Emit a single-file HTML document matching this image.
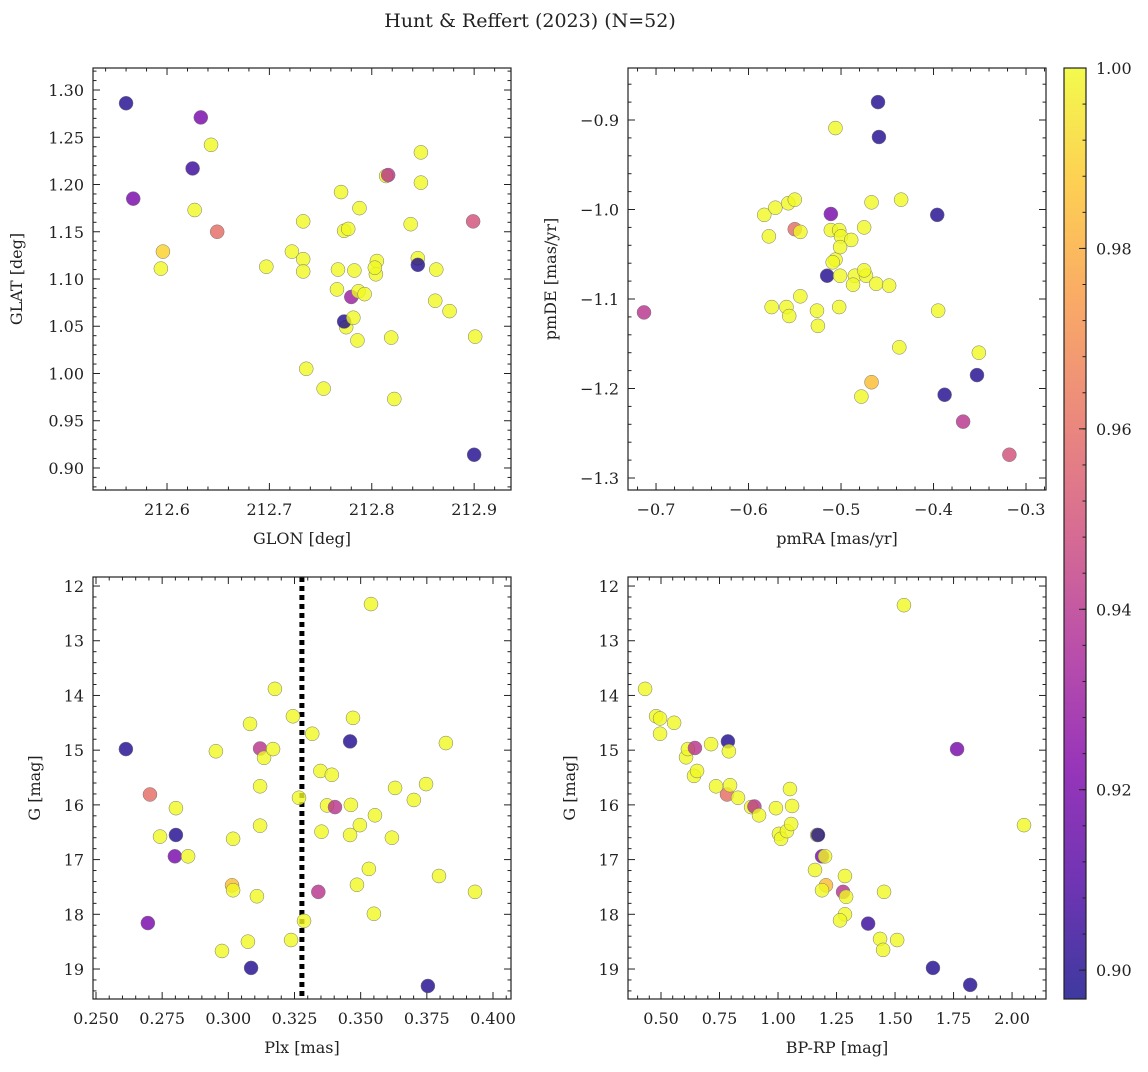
<!DOCTYPE html>
<html><head><meta charset="utf-8"><style>
body{margin:0;background:#fff}
svg text{font-family:"DejaVu Serif","Liberation Serif",serif;fill:#222}
</style></head><body>
<svg id="fig" width="1148" height="1067" viewBox="0 0 1148 1067" xmlns="http://www.w3.org/2000/svg">
<defs>
<linearGradient id="plasma" x1="0" y1="1" x2="0" y2="0">
<stop offset="0" stop-color="#0d0887"/><stop offset="0.125" stop-color="#4c02a1"/><stop offset="0.25" stop-color="#7e03a8"/><stop offset="0.375" stop-color="#a92395"/><stop offset="0.5" stop-color="#cc4778"/><stop offset="0.625" stop-color="#e66c5c"/><stop offset="0.75" stop-color="#f89540"/><stop offset="0.875" stop-color="#fdc328"/><stop offset="1" stop-color="#f0f921"/>
</linearGradient>
</defs>
<text x="530" y="27" font-size="19" text-anchor="middle">Hunt &amp; Reffert (2023) (N=52)</text>
</svg>
<script>
// Panel 1: GLON vs GLAT
const p1X=[212.560,212.567,212.633,212.643,212.625,212.627,212.596,212.594,212.649,212.697,212.722,212.733,212.733,212.733,212.736,212.753,212.766,212.767,212.770,212.773,212.777,212.775,212.773,212.780,212.782,212.783,212.786,212.788,212.787,212.793,212.805,212.804,212.803,212.814,212.816,212.819,212.822,212.838,212.845,212.845,212.848,212.848,212.863,212.862,212.876,212.899,212.901,212.900];
const p1Y=[1.286,1.185,1.271,1.242,1.217,1.173,1.129,1.111,1.150,1.113,1.129,1.161,1.121,1.108,1.005,0.984,1.089,1.110,1.192,1.151,1.153,1.049,1.055,1.081,1.059,1.109,1.035,1.175,1.087,1.084,1.119,1.105,1.112,1.209,1.210,1.038,0.973,1.158,1.122,1.115,1.234,1.202,1.110,1.077,1.066,1.161,1.039,0.914];
const p1C=[0.90,0.92,0.92,1,0.905,1,0.99,1,0.96,1,1,1,1,1,1,1,1,1,1,1,1,1,0.90,0.93,1,1,1,1,1,1,1,1,1,1,0.94,1,1,1,1,0.90,1,1,1,1,1,0.95,1,0.90];
// Panel 2: pmRA vs pmDE
const p2X=[-0.460,-0.459,-0.506,-0.396,-0.511,-0.713,-0.583,-0.571,-0.557,-0.550,-0.578,-0.550,-0.544,-0.511,-0.502,-0.500,-0.506,-0.509,-0.489,-0.475,-0.467,-0.435,-0.515,-0.501,-0.501,-0.485,-0.487,-0.473,-0.475,-0.462,-0.448,-0.502,-0.526,-0.544,-0.575,-0.559,-0.556,-0.525,-0.395,-0.437,-0.467,-0.478,-0.351,-0.353,-0.388,-0.368,-0.318];
const p2Y=[-0.880,-0.919,-0.909,-1.006,-1.005,-1.115,-1.006,-0.998,-0.993,-0.989,-1.030,-1.022,-1.025,-1.023,-1.023,-1.030,-1.056,-1.059,-1.034,-1.020,-0.992,-0.989,-1.074,-1.074,-1.042,-1.074,-1.084,-1.074,-1.068,-1.083,-1.085,-1.109,-1.113,-1.097,-1.109,-1.109,-1.119,-1.130,-1.113,-1.154,-1.193,-1.209,-1.160,-1.185,-1.207,-1.237,-1.274];
const p2C=[0.90,0.90,1,0.90,0.92,0.94,1,1,1,1,1,0.96,1,1,1,1,1,1,1,1,1,1,0.90,1,1,1,1,1,1,1,1,1,1,1,1,1,1,1,1,1,0.985,1,1,0.90,0.90,0.94,0.95];
// Panel 3: Plx vs G
const p3X=[0.2613,0.2696,0.2704,0.2742,0.2802,0.2802,0.2798,0.2848,0.2953,0.2976,0.3014,0.3018,0.3018,0.3074,0.3082,0.3086,0.3108,0.3120,0.3120,0.3120,0.3135,0.3169,0.3176,0.3244,0.3237,0.3267,0.3286,0.3317,0.3340,0.3348,0.3352,0.3373,0.3391,0.3403,0.3460,0.3471,0.3463,0.3460,0.3486,0.3497,0.3539,0.3531,0.3550,0.3554,0.3618,0.3630,0.3701,0.3747,0.3754,0.3796,0.3822,0.3932];
const p3Y=[14.98,18.16,15.81,16.58,16.06,16.55,16.94,16.94,15.02,18.67,17.47,17.56,16.62,18.50,14.52,18.98,17.67,16.38,15.66,14.97,15.14,14.98,13.88,14.38,18.47,15.87,18.12,14.70,17.59,15.38,16.49,16.01,15.45,16.04,14.84,14.41,16.00,16.55,17.46,16.37,12.33,17.17,17.99,16.19,16.60,15.69,15.91,15.62,19.31,17.30,14.87,17.59];
const p3C=[0.90,0.92,0.96,1,1,0.90,0.92,1,1,1,0.985,1,1,1,1,0.90,1,1,1,0.94,1,1,1,1,1,1,1,1,0.94,1,1,1,1,0.94,0.90,1,1,1,1,1,1,1,1,1,1,1,1,1,0.90,1,1,1];
const plxLine=0.3278;
// Panel 4: BP-RP vs G
const p4X=[0.432,0.479,0.496,0.556,0.496,0.607,0.615,0.645,0.641,0.654,0.714,0.735,0.782,0.786,0.795,0.790,0.829,0.885,0.899,0.919,0.991,1.004,1.013,1.038,1.051,1.060,1.056,1.158,1.167,1.171,1.188,1.205,1.188,1.201,1.278,1.286,1.291,1.286,1.265,1.385,1.453,1.436,1.449,1.509,1.538,1.662,1.765,1.821,2.051];
const p4Y=[13.88,14.38,14.42,14.50,14.70,15.13,14.98,14.96,15.47,15.38,14.89,15.66,15.81,14.84,15.64,15.02,15.87,16.04,16.03,16.19,16.06,16.53,16.62,16.48,15.71,16.02,16.35,17.19,16.55,16.55,16.94,17.47,17.56,16.94,17.59,17.30,17.68,18.00,18.11,18.17,17.59,18.45,18.65,18.47,12.35,18.98,14.98,19.29,16.37];
const p4C=[1,1,1,1,1,1,1,0.94,1,1,1,1,0.96,0.90,1,1,1,1,0.94,1,1,1,1,1,1,1,1,1,1,0.90,0.92,0.985,1,1,0.94,1,1,1,1,0.905,1,1,1,1,1,0.90,0.92,0.90,1];
const cbTicks=[0.90,0.92,0.94,0.96,0.98,1.00];

const NS="http://www.w3.org/2000/svg";
const svg=document.getElementById('fig');
function mk(tag,attrs,parent){const e=document.createElementNS(NS,tag);for(const k in attrs)e.setAttribute(k,attrs[k]);(parent||svg).appendChild(e);return e;}
const stops=[[0,[13,8,135]],[0.125,[76,2,161]],[0.25,[126,3,168]],[0.375,[169,35,149]],[0.5,[204,71,120]],[0.625,[230,108,92]],[0.75,[248,149,64]],[0.875,[253,195,40]],[1,[240,249,33]]];
const VMIN=0.8968,VMAX=1.0;
function plasma(v){let t=(v-VMIN)/(VMAX-VMIN);t=Math.max(0,Math.min(1,t));for(let i=1;i<stops.length;i++){if(t<=stops[i][0]){const a=stops[i-1],b=stops[i];const f=(t-a[0])/(b[0]-a[0]);const c=a[1].map((x,j)=>Math.round(x+(b[1][j]-x)*f));return `rgb(${c})`;}}return 'rgb(240,249,33)';}
function fmt(v,d){return (v<0?'\u2212':'')+Math.abs(v).toFixed(d);}

function panel(o){
  const g=mk('g',{});
  
  
  const {L,R,T,B,xmin,xmax,ymin,ymax,inv}=o;
  const sx=v=>L+(v-xmin)/(xmax-xmin)*(R-L);
  const sy=inv?(v=>T+(v-ymin)/(ymax-ymin)*(B-T)):(v=>B-(v-ymin)/(ymax-ymin)*(B-T));
  // ticks
  const tg=mk('g',{stroke:'#222','stroke-width':1},g);
  for(let k=Math.ceil(xmin/o.xminor-1e-6);k*o.xminor<=xmax+1e-9;k++){const v=k*o.xminor;const x=sx(v);const major=Math.abs(v/o.xmajor-Math.round(v/o.xmajor))<1e-6;const len=major?7:3.5;
    mk('line',{x1:x,x2:x,y1:B,y2:B-len},tg);mk('line',{x1:x,x2:x,y1:T,y2:T+len},tg);
    if(major){const t=mk('text',{x:x,y:B+25,'font-size':16,'text-anchor':'middle',stroke:'none'},g);t.textContent=fmt(v,o.xd);}}
  for(let k=Math.ceil(Math.min(ymin,ymax)/o.yminor-1e-6);k*o.yminor<=Math.max(ymin,ymax)+1e-9;k++){const v=k*o.yminor;const y=sy(v);const major=Math.abs(v/o.ymajor-Math.round(v/o.ymajor))<1e-6;const len=major?7:3.5;
    mk('line',{x1:L,x2:L+len,y1:y,y2:y},tg);mk('line',{x1:R,x2:R-len,y1:y,y2:y},tg);
    if(major){const t=mk('text',{x:L-9,y:y+6,'font-size':16,'text-anchor':'end',stroke:'none'},g);t.textContent=fmt(v,o.yd);}}
  if(o.vline!==undefined){const l=mk('line',{x1:sx(o.vline),x2:sx(o.vline),y1:T,y2:B,stroke:'#000','stroke-width':5,'stroke-dasharray':'5,4'},g);}
  // points
  o.xs.forEach((xv,i)=>{const c=mk('circle',{cx:sx(xv),cy:sy(o.ys[i]),r:7,fill:plasma(o.cs[i]),'fill-opacity':0.8,stroke:'#777','stroke-width':0.5},g);
    
    });
  const fr=mk('rect',{x:L,y:T,width:R-L,height:B-T,fill:'none',stroke:'#222','stroke-width':1.2},g);
  
  const xl=mk('text',{x:(L+R)/2,y:B+54,'font-size':16,'text-anchor':'middle'},g);xl.textContent=o.xlabel;
  
  const yx=o.ylx;const yl=mk('text',{x:yx,y:(T+B)/2,'font-size':16,'text-anchor':'middle',transform:`rotate(-90 ${yx} ${(T+B)/2})`},g);yl.textContent=o.ylabel;
  
}
panel({name:'glon-glat-panel',L:93,R:511,T:68,B:490,xmin:212.5277,xmax:212.936,ymin:0.8767,ymax:1.3233,xmajor:0.1,xminor:0.02,ymajor:0.05,yminor:0.01,xd:1,yd:2,xs:p1X,ys:p1Y,cs:p1C,xlabel:'GLON [deg]',ylabel:'GLAT [deg]',ylx:22});
panel({name:'proper-motion-panel',L:628,R:1046,T:68,B:490,xmin:-0.7303,xmax:-0.2784,ymin:-1.3134,ymax:-0.8419,xmajor:0.1,xminor:0.02,ymajor:0.1,yminor:0.02,xd:1,yd:1,xs:p2X,ys:p2Y,cs:p2C,xlabel:'pmRA [mas/yr]',ylabel:'pmDE [mas/yr]',ylx:556});
panel({name:'plx-g-panel',L:93,R:511,T:577,B:999,xmin:0.24887,xmax:0.4068,ymin:11.835,ymax:19.548,inv:true,xmajor:0.025,xminor:0.005,ymajor:1,yminor:0.2,xd:3,yd:0,xs:p3X,ys:p3Y,cs:p3C,vline:plxLine,xlabel:'Plx [mas]',ylabel:'G [mag]',ylx:40});
panel({name:'cmd-panel',L:628,R:1046,T:577,B:999,xmin:0.359,xmax:2.145,ymin:11.835,ymax:19.548,inv:true,xmajor:0.25,xminor:0.05,ymajor:1,yminor:0.2,xd:2,yd:0,xs:p4X,ys:p4Y,cs:p4C,xlabel:'BP-RP [mag]',ylabel:'G [mag]',ylx:575});
// colorbar
const cb=mk('g',{});


const CL=1064,CR=1086,CT=68,CB=999;
mk('rect',{x:CL,y:CT,width:CR-CL,height:CB-CT,fill:'url(#plasma)','fill-opacity':0.8},cb);
mk('rect',{x:CL,y:CT,width:CR-CL,height:CB-CT,fill:'none',stroke:'#222','stroke-width':1.2},cb);
const cy=v=>CB-(v-VMIN)/(VMAX-VMIN)*(CB-CT);
for(let k=Math.ceil(VMIN/0.004);k*0.004<=VMAX+1e-9;k++){const y=cy(k*0.004);mk('line',{x1:CR,x2:CR-3.5,y1:y,y2:y,stroke:'#222'},cb);}
cbTicks.forEach(v=>{const y=cy(v);mk('line',{x1:CR,x2:CR-7,y1:y,y2:y,stroke:'#222'},cb);
  const t=mk('text',{x:CR+10,y:y+6,'font-size':16},cb);t.textContent=v.toFixed(2);
  
  });
</script>
</body></html>
